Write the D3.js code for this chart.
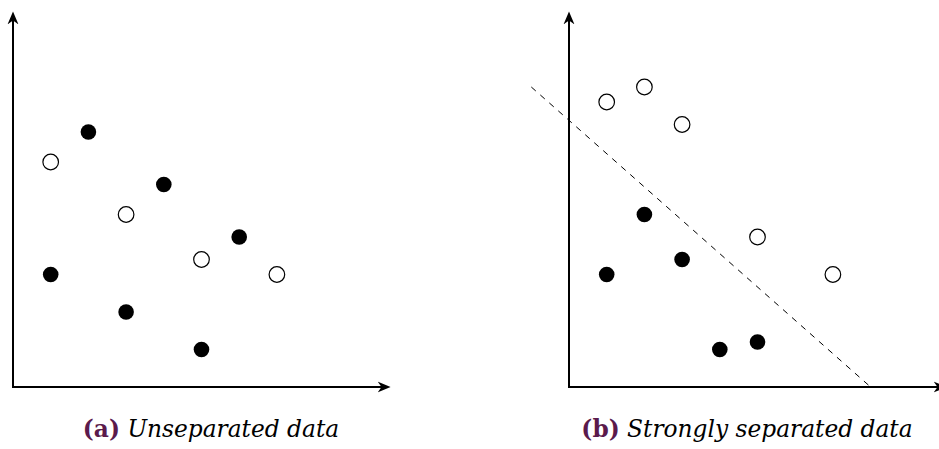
<!DOCTYPE html>
<html>
<head>
<meta charset="utf-8">
<script src="https://d3js.org/d3.v7.min.js"></script>
<style>
  body { margin: 0; background: #fff; }
</style>
</head>
<body>
<script>
// panel (a): unseparated data
var aFilled = [[1, 3], [2, 6.8], [3, 2], [4, 5.4], [5, 1], [6, 4]];
var aOpen = [[1, 6], [3, 4.6], [5, 3.4], [7, 3]];
// panel (b): strongly separated data
var bFilled = [[1, 3], [2, 4.6], [3, 3.4], [4, 1], [5, 1.2]];
var bOpen = [[1, 7.6], [2, 8], [3, 7], [5, 4], [7, 3]];
var bLine = [[-1, 8], [8, 0]];
var captions = [["(a)", "Unseparated data"], ["(b)", "Strongly separated data"]];

var svg = d3.select("body").append("svg")
  .attr("width", 939)
  .attr("height", 449);

svg.append("defs").append("marker")
  .attr("id", "arrow")
  .attr("viewBox", "0 0 10 10")
  .attr("refX", 8).attr("refY", 5)
  .attr("markerUnits", "userSpaceOnUse")
  .attr("markerWidth", 13).attr("markerHeight", 13)
  .attr("orient", "auto")
  .append("path")
    .attr("d", "M 0 0.8 L 10 5 L 0 9.2 L 3 5 z")
    .attr("fill", "#000");

var panels = [
  { x0: 13, filled: aFilled, open: aOpen, line: null, cap: captions[0], capX: 211 },
  { x0: 569, filled: bFilled, open: bOpen, line: bLine, cap: captions[1], capX: 747 }
];

var y = d3.scaleLinear().domain([0, 10]).range([387, 12]);

panels.forEach(function(p) {
  var x = d3.scaleLinear().domain([0, 10]).range([p.x0, p.x0 + 377]);
  var g = svg.append("g");

  if (p.line) {
    g.append("path")
      .attr("d", d3.line().x(function(d) { return x(d[0]); }).y(function(d) { return y(d[1]); })(p.line))
      .attr("stroke", "#000")
      .attr("stroke-width", 1)
      .attr("stroke-dasharray", "6,6")
      .attr("fill", "none");
  }

  // axes
  g.append("line")
    .attr("x1", x(0)).attr("y1", y(0))
    .attr("x2", x(0)).attr("y2", y(10) + 2)
    .attr("stroke", "#000").attr("stroke-width", 2)
    .attr("marker-end", "url(#arrow)");
  g.append("line")
    .attr("x1", x(0) - 1).attr("y1", y(0))
    .attr("x2", x(10) - 2).attr("y2", y(0))
    .attr("stroke", "#000").attr("stroke-width", 2)
    .attr("marker-end", "url(#arrow)");

  g.selectAll("circle.open").data(p.open).enter().append("circle")
    .attr("class", "open")
    .attr("cx", function(d) { return x(d[0]); })
    .attr("cy", function(d) { return y(d[1]); })
    .attr("r", 7.8)
    .attr("fill", "#fff").attr("stroke", "#000").attr("stroke-width", 1.2);

  g.selectAll("circle.filled").data(p.filled).enter().append("circle")
    .attr("class", "filled")
    .attr("cx", function(d) { return x(d[0]); })
    .attr("cy", function(d) { return y(d[1]); })
    .attr("r", 7.8)
    .attr("fill", "#000");

  var t = svg.append("text")
    .attr("x", p.capX).attr("y", 437)
    .attr("text-anchor", "middle")
    .style("font-family", "'DejaVu Serif', serif")
    .style("font-size", "23.3px");
  t.append("tspan").text(p.cap[0])
    .attr("fill", "#5b1a4c").style("font-weight", "bold");
  t.append("tspan").text(" " + p.cap[1])
    .style("font-style", "italic").attr("fill", "#000");
});
</script>
</body>
</html>
